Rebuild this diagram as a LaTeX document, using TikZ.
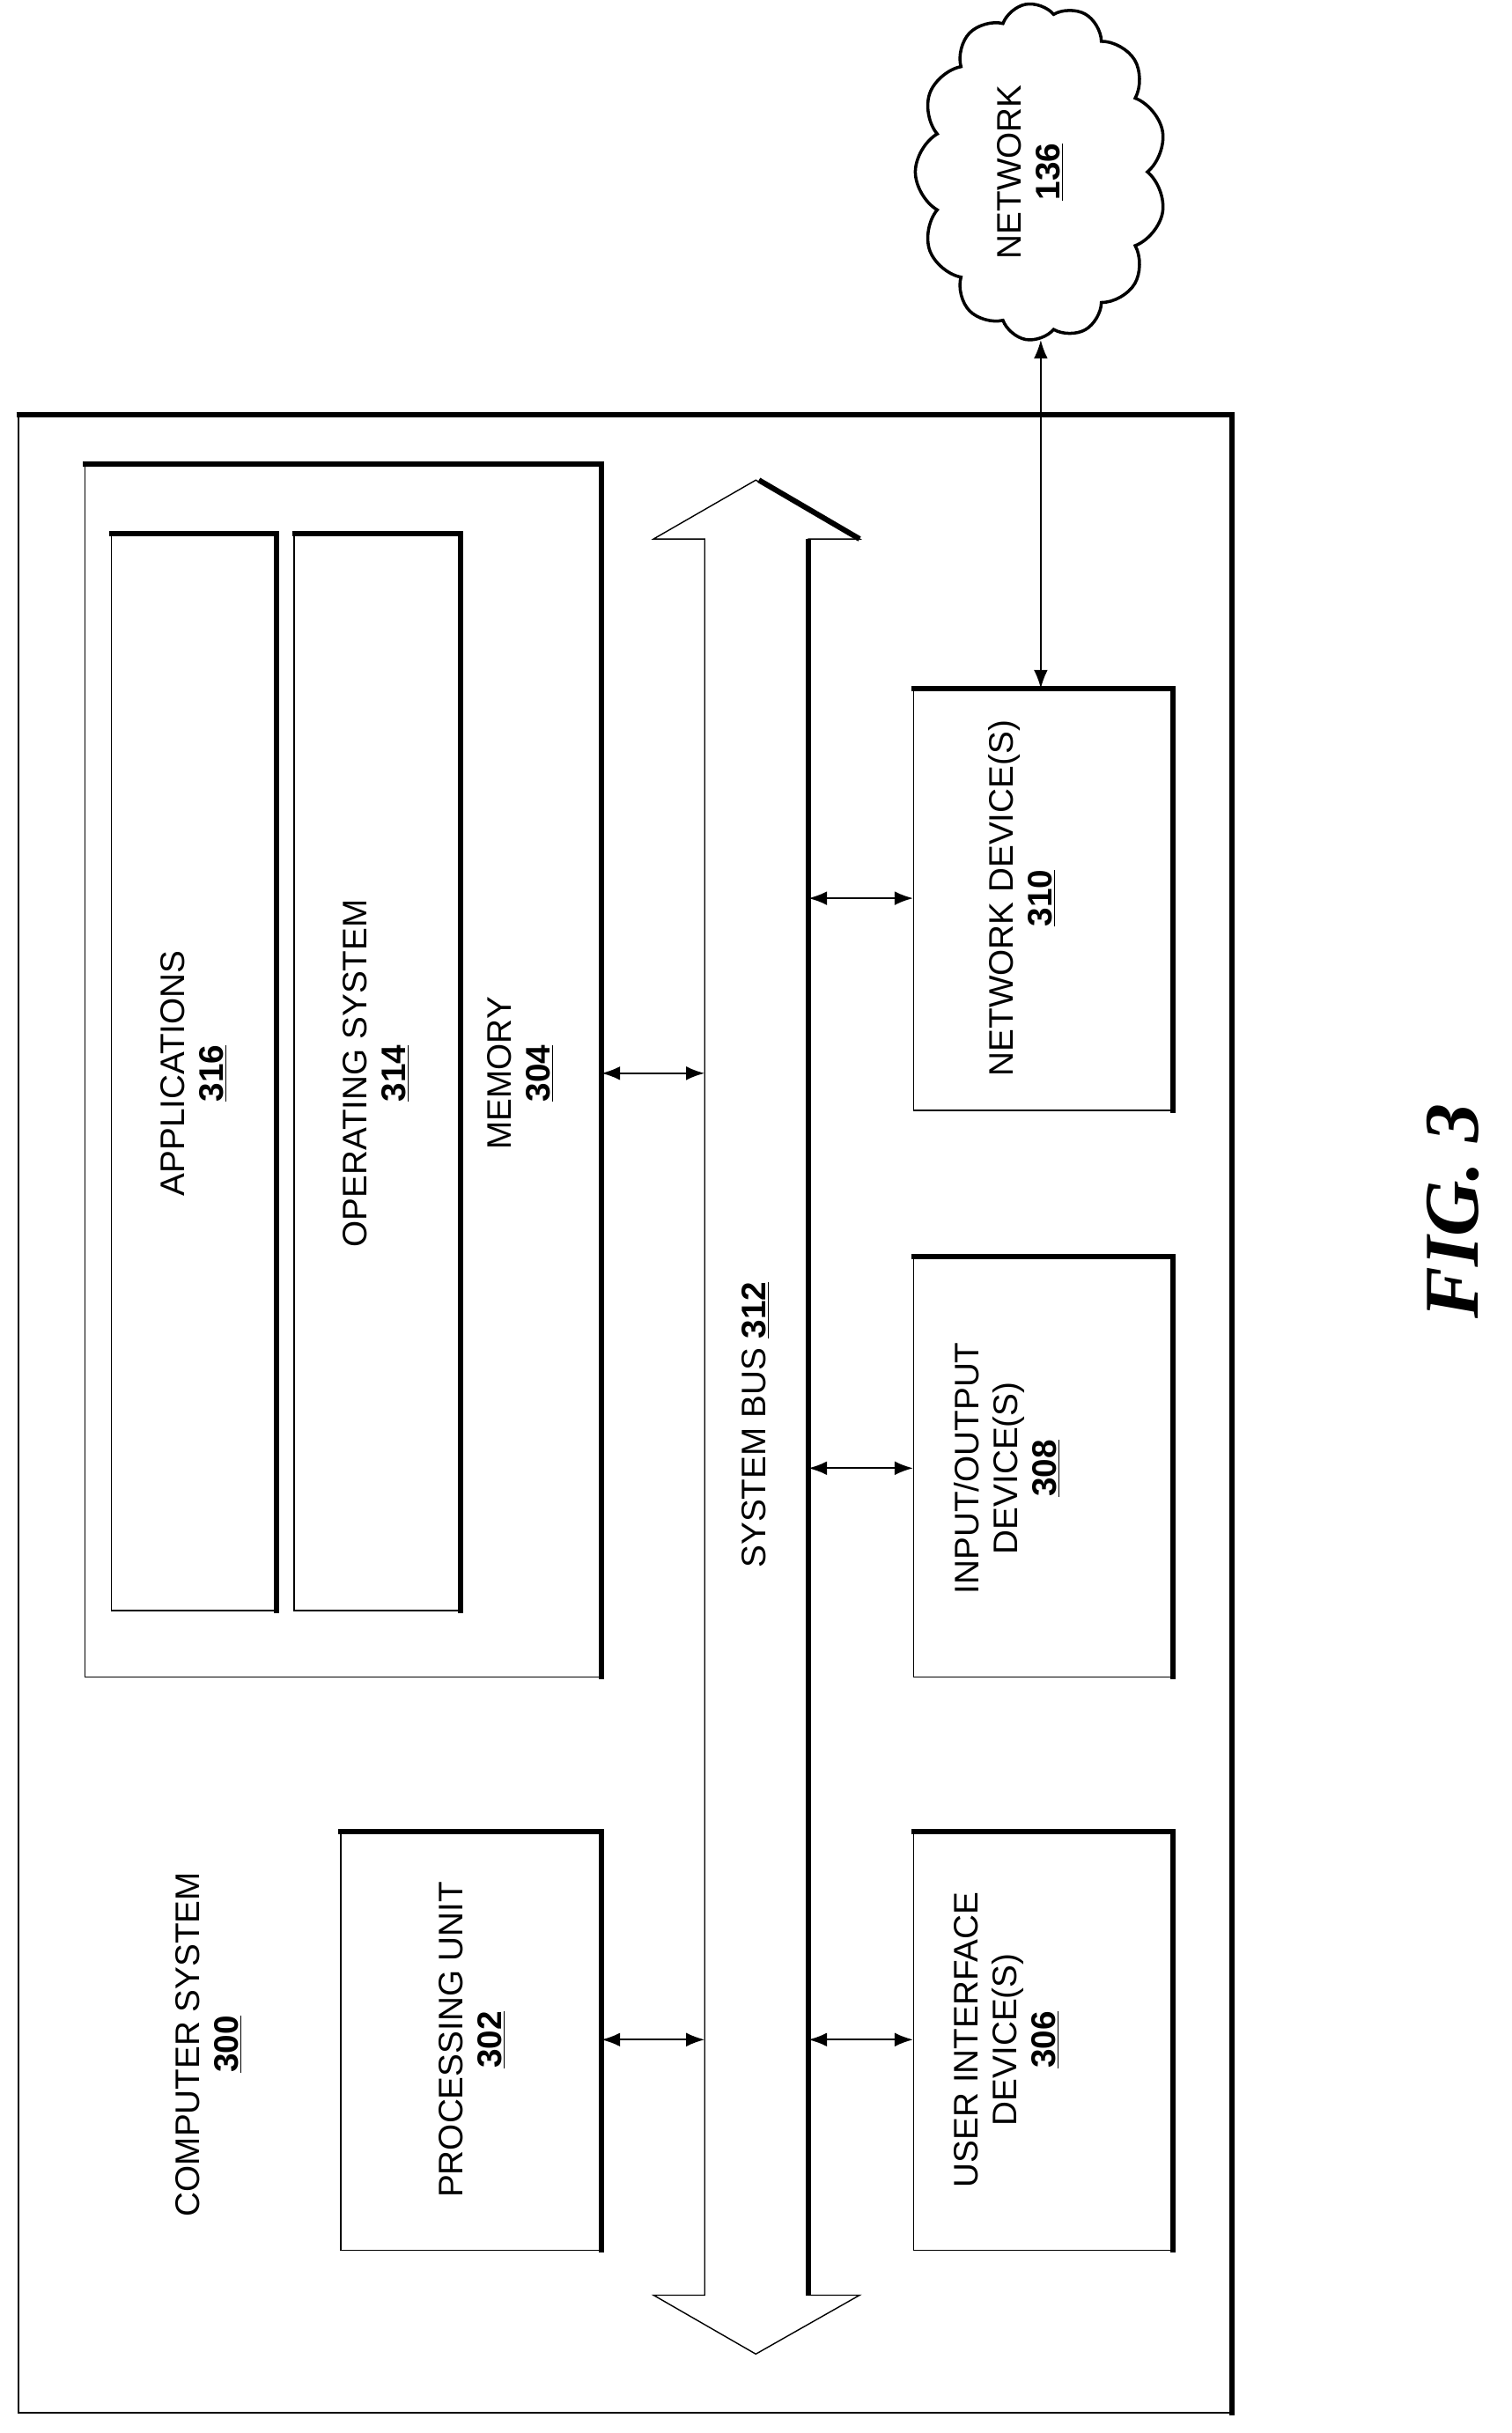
\documentclass[tikz,border=0pt]{standalone}
\usepackage{fontspec}
\setmainfont{Liberation Sans}
\newfontfamily\figfont{Liberation Serif}
\usetikzlibrary{shapes.symbols,arrows.meta}
\newcommand{\num}[1]{\textbf{\underline{#1}}}
\begin{document}
\begin{tikzpicture}[x=1pt,y=-1pt,
  box/.style={draw,line width=0.8pt,inner sep=0pt,font=\fontsize{22}{25}\selectfont,align=center},
  lbl/.style={rotate=90,font=\fontsize{22}{25}\selectfont,align=center},
  arr/.style={line width=1.2pt,{Latex[length=12pt,width=9pt]}-{Latex[length=12pt,width=9pt]}}]
\useasboundingbox (0,0) rectangle (976,1571);
\newcommand{\shd}[1]{\draw[line width=3.5pt] ([xshift=-1pt]#1.north west) -- (#1.north east) -- ([yshift=-1pt]#1.south east);}
\node[box,minimum width=783,minimum height=1290] (outer) at (403.5,913) {};\shd{outer}
\node[box,minimum width=333,minimum height=783] (mem) at (221.5,691.5) {};\shd{mem}
\node[box,minimum width=106,minimum height=695] (app) at (125,692.5) {};\shd{app}
\node[box,minimum width=107,minimum height=695] (os) at (243.5,692.5) {};\shd{os}
\node[box,minimum width=168,minimum height=270] (pu) at (304,1318) {};\shd{pu}
\node[box,minimum width=167,minimum height=272] (nd) at (673.5,581) {};\shd{nd}
\node[box,minimum width=167,minimum height=271] (io) at (673.5,947.5) {};\shd{io}
\node[box,minimum width=167,minimum height=270] (ui) at (673.5,1318) {};\shd{ui}
\node[lbl] (t300) at (135,1320) {COMPUTER SYSTEM\\\num{300}};
\node[lbl] (t302) at (305,1317) {PROCESSING UNIT\\\num{302}};
\node[lbl] (t316) at (125,693) {APPLICATIONS\\\num{316}};
\node[lbl] (t314) at (243,693) {OPERATING SYSTEM\\\num{314}};
\node[lbl] (t304) at (336,693) {MEMORY\\\num{304}};
\node[lbl] (t312) at (488,920) {SYSTEM BUS \num{312}};
\node[lbl] (t310) at (660,580) {NETWORK DEVICE(S)\\\num{310}};
\node[lbl] (t308) at (650,948) {INPUT/OUTPUT\\DEVICE(S)\\\num{308}};
\node[lbl] (t306) at (650,1317) {USER INTERFACE\\DEVICE(S)\\\num{306}};
% bus
\draw[line width=0.8pt] (488,310) -- (422,348) -- (455,348) -- (455,1482) -- (422,1482) -- (488,1520) -- (555,1482) -- (522,1482) -- (522,348) -- (555,348) -- cycle;
\draw[line width=3.5pt] (490,310) -- (555,348);
\draw[line width=3.5pt] (522,348) -- (522,1482);
\coordinate (busL1) at (455,693); \coordinate (busL2) at (455,1317);
\coordinate (busR1) at (522,580); \coordinate (busR2) at (522,948); \coordinate (busR3) at (522,1317);
\draw[arr] (mem.east|-busL1) -- (busL1);
\draw[arr] (pu.east|-busL2) -- (busL2);
\draw[arr] (busR1) -- (nd.west|-busR1);
\draw[arr] (busR2) -- (io.west|-busR2);
\draw[arr] (busR3) -- (ui.west|-busR3);
% cloud
\node[cloud,draw,line width=2pt,cloud puffs=13,cloud puff arc=120,aspect=1.35,minimum width=218,minimum height=162,inner sep=0pt,rotate=90] (net) at (672,111) {};
\node[lbl] (t136) at (665,111) {NETWORK\\\num{136}};
\draw[arr] (net.west) -- (nd.north-|net.west);
\node[rotate=90,font=\figfont\fontsize{50}{52}\selectfont\bfseries\itshape] (fig) at (938,782) {FIG. 3};
\end{tikzpicture}
\end{document}
